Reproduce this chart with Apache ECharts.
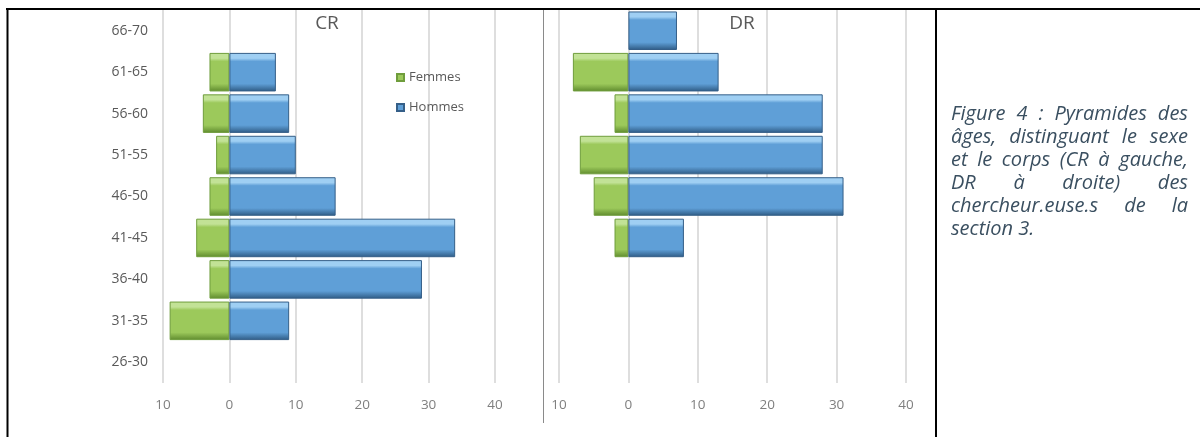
<!DOCTYPE html>
<html>
<head>
<meta charset="utf-8">
<script src="https://cdn.jsdelivr.net/npm/echarts@6/dist/echarts.min.js"></script>
<style>
  html, body { margin:0; padding:0; background:#fff; }
  #wrap { position:relative; width:1200px; height:437px; overflow:hidden; }
  #chart { position:absolute; left:0; top:0; width:1200px; height:437px; }
  #caption { position:absolute; left:951px; top:101px; width:237px;
    font-family:"Open Sans","Noto Sans",sans-serif; font-style:italic; font-size:17.5px;
    line-height:23px; color:#3a4f60; }
  #caption div { white-space:nowrap; text-align:justify; text-align-last:justify; }
  #caption div.last { text-align-last:left; }
</style>
</head>
<body>
<div id="wrap">
  <div id="chart"></div>
  <div id="caption">
    <div>Figure 4 : Pyramides des</div>
    <div>âges, distinguant le sexe</div>
    <div>et le corps (CR à gauche,</div>
    <div>DR à droite) des</div>
    <div>chercheur.euse.s de la</div>
    <div class="last">section 3.</div>
  </div>
</div>
<script>
// ---- data ----
var categories = ['26-30','31-35','36-40','41-45','46-50','51-55','56-60','61-65','66-70'];
var crFemmes = [0, 9, 3, 5, 3, 2, 4, 3, 0];
var crHommes = [0, 9, 29, 34, 16, 10, 9, 7, 0];
var drFemmes = [0, 0, 0, 2, 5, 7, 2, 8, 0];
var drHommes = [0, 0, 0, 8, 31, 28, 28, 13, 7];
var xTicks = [-10, 0, 10, 20, 30, 40];
var titles = ['CR', 'DR'];
var seriesNames = ['Femmes', 'Hommes'];

// fit caption font so the fullest lines fill the column at natural spacing
(function () {
  var cap = document.getElementById('caption');
  var lines = cap.querySelectorAll('div');
  var probe = document.createElement('span');
  probe.style.cssText = 'position:absolute;visibility:hidden;white-space:nowrap;font-family:"Open Sans","Noto Sans",sans-serif;font-style:italic;font-size:20px;';
  document.body.appendChild(probe);
  var best = 40;
  [0, 1, 2].forEach(function (i) {
    probe.textContent = lines[i].textContent;
    var w = probe.getBoundingClientRect().width;
    best = Math.min(best, 20 * 235 / w);
  });
  document.body.removeChild(probe);
  cap.style.fontSize = Math.min(best, 20).toFixed(2) + 'px';
})();

function neg(arr) { return arr.map(function (v) { return v ? -v : '-'; }); }
function pos(arr) { return arr.map(function (v) { return v ? v : '-'; }); }

function grad(light, main, dark) {
  return new echarts.graphic.LinearGradient(0, 0, 0, 1, [
    { offset: 0, color: light },
    { offset: 0.14, color: light },
    { offset: 0.22, color: main },
    { offset: 0.80, color: main },
    { offset: 1, color: dark }
  ]);
}
var greenStyle = { color: grad('#c2e296', '#9cc95b', '#5e8a2d'), borderColor: '#6f9d3c', borderWidth: 1 };
var blueStyle  = { color: grad('#9fcff3', '#5f9fd7', '#2e5a83'), borderColor: '#355f88', borderWidth: 1 };

var chart = echarts.init(document.getElementById('chart'), null, { renderer: 'canvas' });

function xAxisFor(gi) {
  return {
    type: 'value', gridIndex: gi,
    min: xTicks[0], max: xTicks[xTicks.length - 1], interval: 10,
    axisLine: { show: false }, axisTick: { show: false },
    splitLine: { show: true, lineStyle: { color: '#dedede', width: 2 } },
    axisLabel: { color: '#7f7f7f', fontSize: 13.5, fontFamily: 'Open Sans, sans-serif', margin: 15,
      formatter: function (v) { return Math.abs(v); } }
  };
}
function yAxisFor(gi, showLabels) {
  return {
    type: 'category', gridIndex: gi, data: categories,
    axisLine: { show: false }, axisTick: { show: false }, splitLine: { show: false },
    axisLabel: { show: showLabels, color: '#595959', fontSize: 14, fontFamily: 'Open Sans, sans-serif', margin: 15 }
  };
}
function barSeries(name, data, gi, style) {
  return {
    name: name, type: 'bar', xAxisIndex: gi, yAxisIndex: gi, stack: 'g' + gi,
    data: data, barCategoryGap: '7%', itemStyle: style
  };
}

chart.setOption({
  animation: false,
  title: [
    { text: titles[0], left: 322, top: 9, textAlign: 'center',
      textStyle: { color: '#595959', fontSize: 19, fontWeight: 'normal', fontFamily: 'Open Sans, sans-serif' } },
    { text: titles[1], left: 737, top: 9, textAlign: 'center',
      textStyle: { color: '#595959', fontSize: 19, fontWeight: 'normal', fontFamily: 'Open Sans, sans-serif' } }
  ],
  legend: {
    data: seriesNames, orient: 'vertical', left: 391, top: 66, itemGap: 17,
    icon: 'rect', itemWidth: 7, itemHeight: 7,
    textStyle: { color: '#595959', fontSize: 13, fontFamily: 'Open Sans, sans-serif' }
  },
  grid: [
    { left: 163, width: 332, top: 10, height: 373 },
    { left: 559, width: 347, top: 10, height: 373 }
  ],
  xAxis: [xAxisFor(0), xAxisFor(1)],
  yAxis: [yAxisFor(0, true), yAxisFor(1, false)],
  series: [
    barSeries(seriesNames[0], neg(crFemmes), 0, greenStyle),
    barSeries(seriesNames[1], pos(crHommes), 0, blueStyle),
    barSeries(seriesNames[0], neg(drFemmes), 1, greenStyle),
    barSeries(seriesNames[1], pos(drHommes), 1, blueStyle)
  ],
  graphic: [
    { type: 'line', shape: { x1: 6, y1: 9, x2: 1200, y2: 9 }, style: { stroke: '#000', lineWidth: 2 } },
    { type: 'line', shape: { x1: 7.5, y1: 9, x2: 7.5, y2: 437 }, style: { stroke: '#000', lineWidth: 2 } },
    { type: 'line', shape: { x1: 936, y1: 9, x2: 936, y2: 437 }, style: { stroke: '#000', lineWidth: 2 } },
    { type: 'line', shape: { x1: 543.5, y1: 10, x2: 543.5, y2: 423 }, style: { stroke: '#8a8a8a', lineWidth: 1 } }
  ]
});
</script>
</body>
</html>
